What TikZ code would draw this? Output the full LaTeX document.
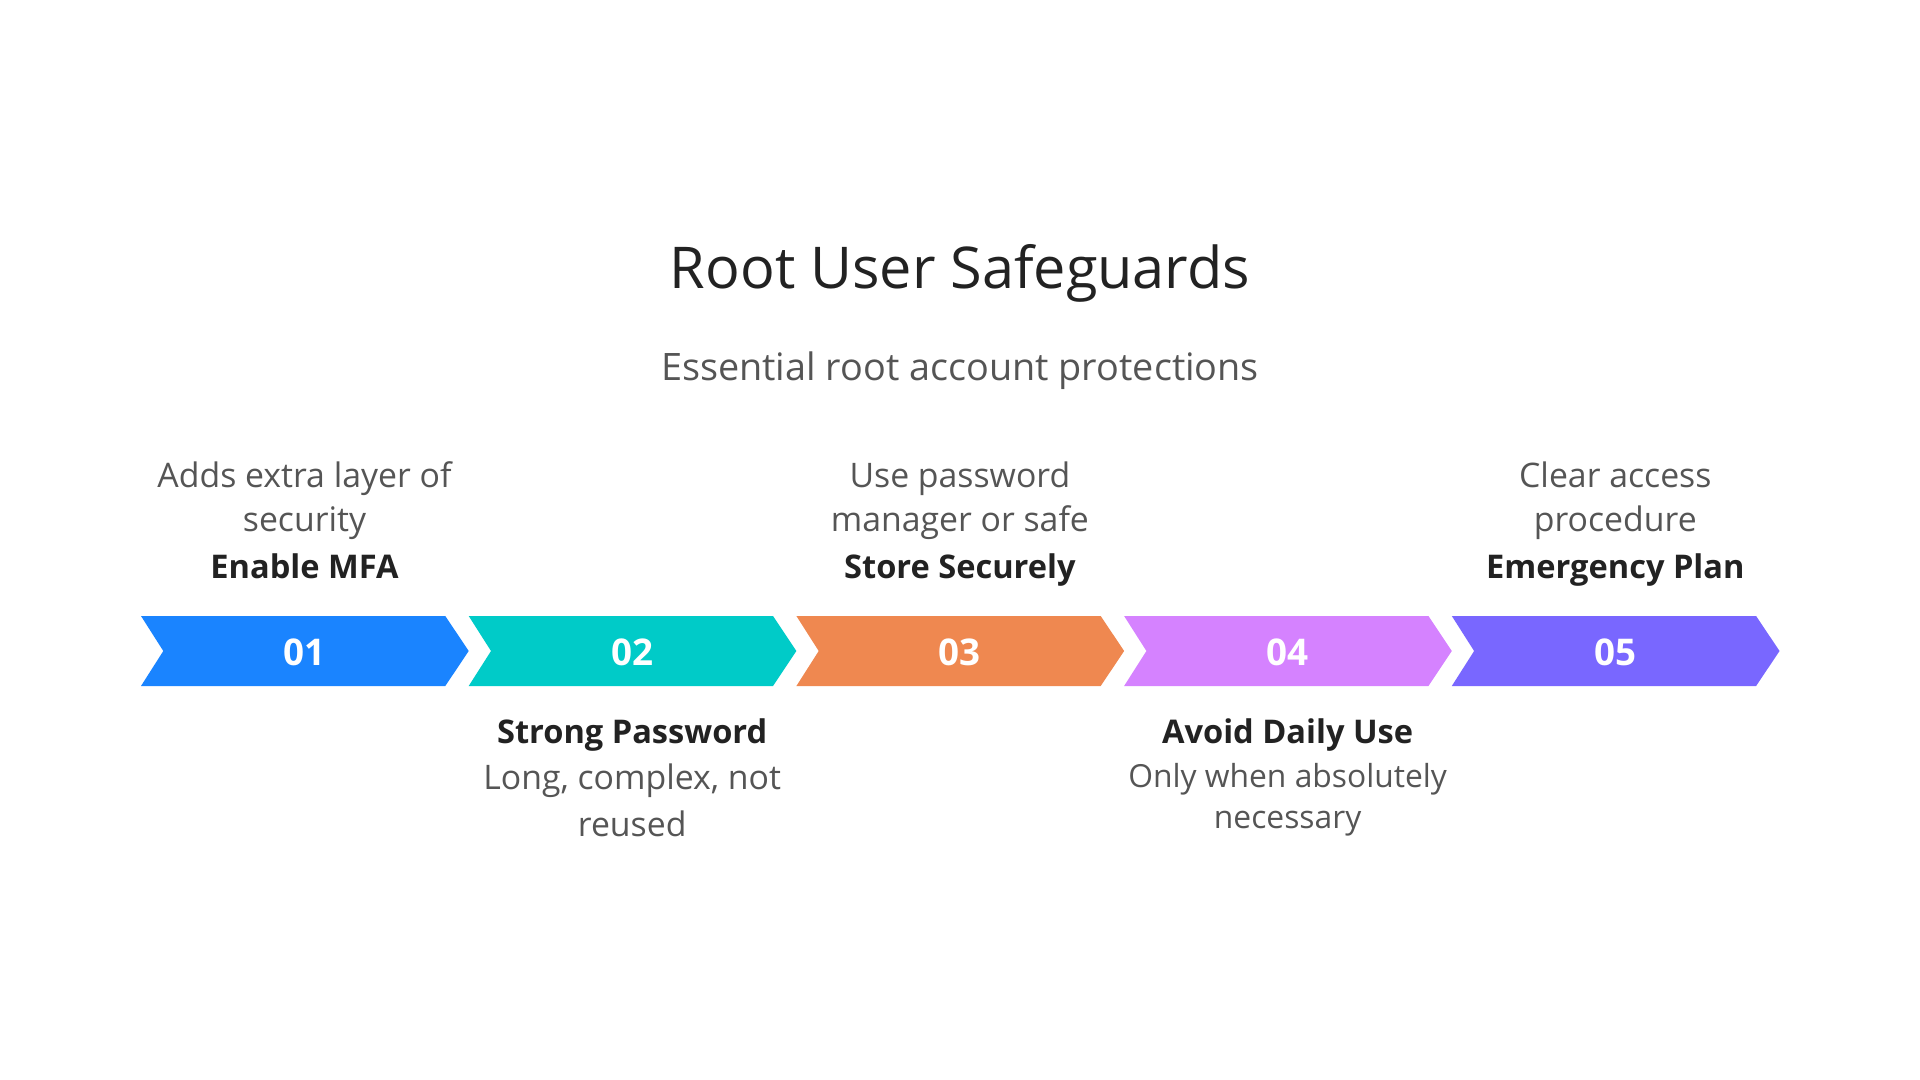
\documentclass[tikz,border=0pt]{standalone}
\usepackage{fontspec}
\setmainfont{Open Sans}
\definecolor{cA}{HTML}{1A84FF}
\definecolor{cB}{HTML}{00CBC8}
\definecolor{cC}{HTML}{EF8850}
\definecolor{cD}{HTML}{D582FF}
\definecolor{cE}{HTML}{7967FF}
\definecolor{dark}{HTML}{222222}
\definecolor{grey}{HTML}{555555}
\tikzset{
  titletext/.style={font=\fontsize{28.8}{34}\selectfont, text=dark, inner sep=0pt, anchor=base},
  subtext/.style={font=\fontsize{18.9}{22}\selectfont, text=grey, inner sep=0pt, anchor=base},
  desctext/.style={font=\fontsize{16.9}{20}\selectfont, text=grey, inner sep=0pt, anchor=base},
  smalldesc/.style={font=\fontsize{15.9}{18}\selectfont, text=grey, inner sep=0pt, anchor=base},
  labeltext/.style={font=\bfseries\fontsize{16.3}{19}\selectfont, text=dark, inner sep=0pt, anchor=base},
  numtext/.style={font=\bfseries\fontsize{18.4}{22}\selectfont, text=white, inner sep=0pt, anchor=center},
}
\newcommand{\chev}[2]{%
  \fill[#2] (#1,616) -- ++(304.3,0) -- ++(23.4,35) -- ++(-23.4,35) -- ++(-304.3,0) -- ++(22.3,-35) -- cycle;}
\begin{document}
\begin{tikzpicture}[x=0.5pt,y=-0.5pt]
\useasboundingbox (0,0) rectangle (1920,1080);
\fill[white] (0,0) rectangle (1920,1080);
\node[titletext] (title) at (960,289) {Root User Safeguards};
\node[subtext] (subtitle) at (960,380) {Essential root account protections};
% chevrons
\chev{141}{cA}
\chev{468.7}{cB}
\chev{796.4}{cC}
\chev{1124.1}{cD}
\chev{1451.8}{cE}
\node[numtext] (n1) at (304.5,652) {01};
\node[numtext] (n2) at (632.2,652) {02};
\node[numtext] (n3) at (959.9,652) {03};
\node[numtext] (n4) at (1287.6,652) {04};
\node[numtext] (n5) at (1615.3,652) {05};
% top texts
\node[desctext] (d1a) at (304.5,487) {Adds extra layer of};
\node[desctext] (d1b) at (304.5,531) {security};
\node[labeltext] (l1) at (304.5,578) {Enable MFA};
\node[desctext] (d3a) at (959.9,487) {Use password};
\node[desctext] (d3b) at (959.9,531) {manager or safe};
\node[labeltext] (l3) at (959.9,578) {Store Securely};
\node[desctext] (d5a) at (1615.3,487) {Clear access};
\node[desctext] (d5b) at (1615.3,531) {procedure};
\node[labeltext] (l5) at (1615.3,578) {Emergency Plan};
% bottom texts
\node[labeltext] (l2) at (632.2,743) {Strong Password};
\node[desctext] (d2a) at (632.2,789) {Long, complex, not};
\node[desctext] (d2b) at (632.2,836) {reused};
\node[labeltext] (l4) at (1287.6,743) {Avoid Daily Use};
\node[smalldesc] (d4a) at (1287.6,787) {Only when absolutely};
\node[smalldesc] (d4b) at (1287.6,828) {necessary};
\end{tikzpicture}
\end{document}
